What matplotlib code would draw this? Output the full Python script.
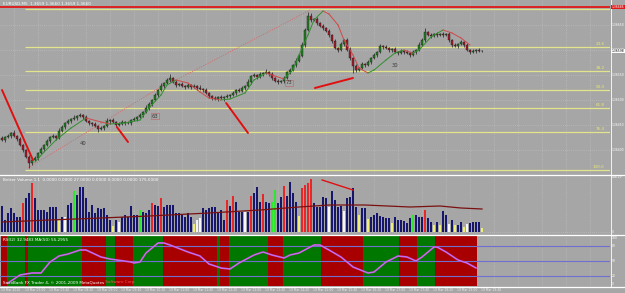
import matplotlib
matplotlib.use("Agg")
import matplotlib.pyplot as plt
from matplotlib.lines import Line2D
from matplotlib.transforms import blended_transform_factory

# ---------------- data ----------------
closes = [
    1.36420, 1.36426, 1.36428, 1.36434, 1.36428, 1.36422, 1.36410, 1.36400, 1.36386, 1.36374,
    1.36380, 1.36384, 1.36394, 1.36402, 1.36410, 1.36418, 1.36426, 1.36428, 1.36424, 1.36438,
    1.36446, 1.36454, 1.36458, 1.36462, 1.36464, 1.36468, 1.36470, 1.36466, 1.36458, 1.36454,
    1.36452, 1.36448, 1.36442, 1.36444, 1.36448, 1.36458, 1.36460, 1.36456, 1.36450, 1.36452,
    1.36456, 1.36454, 1.36454, 1.36460, 1.36462, 1.36466, 1.36470, 1.36476, 1.36484, 1.36492,
    1.36500, 1.36510, 1.36520, 1.36528, 1.36534, 1.36540, 1.36544, 1.36536, 1.36530, 1.36532,
    1.36528, 1.36526, 1.36530, 1.36526, 1.36528, 1.36524, 1.36522, 1.36520, 1.36514, 1.36508,
    1.36504, 1.36502, 1.36506, 1.36504, 1.36506, 1.36508, 1.36510, 1.36514, 1.36520, 1.36518,
    1.36524, 1.36528, 1.36536, 1.36548, 1.36550, 1.36546, 1.36552, 1.36554, 1.36556, 1.36552,
    1.36544, 1.36538, 1.36536, 1.36538, 1.36544, 1.36556, 1.36560, 1.36570, 1.36578, 1.36588,
    1.36610, 1.36640, 1.36668, 1.36660, 1.36662, 1.36654, 1.36648, 1.36644, 1.36638, 1.36630,
    1.36618, 1.36604, 1.36600, 1.36612, 1.36620, 1.36600, 1.36584, 1.36568, 1.36560, 1.36564,
    1.36572, 1.36570, 1.36576, 1.36584, 1.36590, 1.36596, 1.36608, 1.36606, 1.36604, 1.36600,
    1.36602, 1.36596, 1.36594, 1.36598, 1.36596, 1.36594, 1.36590, 1.36596, 1.36600, 1.36610,
    1.36620, 1.36636, 1.36630, 1.36628, 1.36632, 1.36630, 1.36632, 1.36630, 1.36632, 1.36620,
    1.36610, 1.36608, 1.36612, 1.36616, 1.36610, 1.36600, 1.36596, 1.36598, 1.36600, 1.36598,
    1.36598,
]
first_open = 1.36424
# wick lengths in units of 0.2 pip
wick_up = ("2121312112" "1212121213" "2121312121" "1212131212" "2121212132"
           "1213124121" "2121213121" "1212121212" "2131212131" "2121212132"
           "3243121212" "1212123121" "2121212121" "1212121213" "2412121212"
           "1212121212" "1")
wick_dn = ("1212121215" "2121212121" "1212121212" "2131213121" "1212121212"
           "2121212121" "1212121212" "2121312121" "1212121212" "2121212121"
           "1212121212" "2121212721" "1212121212" "2121212121" "1212121212"
           "2121212121" "1")
wick_unit = 0.00002

# moving average (bar index, price)
ma_bars = [11, 14, 18, 23, 28, 33, 36, 41, 46, 49, 53, 55, 58, 62, 66, 69, 73, 76, 81, 84,
           88, 91, 94, 97, 99, 102, 104, 107, 109, 112, 114, 117, 119, 122, 124, 128, 131,
           134, 137, 139, 143, 147, 150, 153, 156]
ma_vals = [1.36376, 1.36396, 1.36420, 1.36444, 1.36464, 1.36456, 1.36452, 1.36454, 1.36460,
           1.36484, 1.36510, 1.36530, 1.36540, 1.36534, 1.36516, 1.36504, 1.36500, 1.36502,
           1.36514, 1.36540, 1.36554, 1.36548, 1.36542, 1.36560, 1.36590, 1.36630, 1.36660,
           1.36678, 1.36672, 1.36650, 1.36620, 1.36590, 1.36564, 1.36554, 1.36560, 1.36580,
           1.36594, 1.36600, 1.36594, 1.36600, 1.36626, 1.36640, 1.36634, 1.36624, 1.36610]

red_level = 1.36686
fib_high = 1.36682
fib_low = 1.36360
fib_ratios = [0.0, 23.6, 38.2, 50.0, 61.8, 76.4, 100.0]
fib_start_bar = 7.5

price_ticks = [1.3665, 1.3660, 1.3655, 1.3650, 1.3645, 1.3640]

trend_solid = [((0, 1.36520), (10.3, 1.36380)),
               ((38.3, 1.36446), (42, 1.36416)),
               ((74.7, 1.36494), (82, 1.36434)),
               ((104.3, 1.36524), (117, 1.36544))]
trend_dotted = [((8.7, 1.36364), (56.7, 1.36540)),
                ((56.7, 1.36536), (102.7, 1.36680))]
wave_labels = [(27, 1.36414, "40", False), (51, 1.36468, "63", True),
               (95.7, 1.36534, "73", True), (131, 1.36570, "30", False)]

volumes = [
    208, 96, 152, 192, 152, 120, 120, 232, 272, 312,
    392, 272, 176, 176, 176, 160, 200, 200, 200, 96,
    120, 120, 216, 232, 328, 296, 360, 360, 272, 160,
    216, 152, 192, 184, 192, 136, 96, 48, 96, 80,
    120, 136, 120, 208, 136, 136, 176, 160, 152, 176,
    232, 216, 208, 272, 200, 216, 216, 216, 152, 152,
    136, 120, 152, 120, 64, 96,
    112, 192, 176, 192, 200, 200, 160, 176, 96, 256,
    208, 288, 240, 160, 160, 160, 160, 288, 312, 360,
    240, 304, 240, 232, 240, 336, 232, 280, 368, 288,
    400, 312, 240, 128, 352, 376, 392, 424, 232, 200,
    200, 280, 272, 200, 328, 256, 200, 208, 168, 272,
    280, 352, 200, 136, 192, 192, 104, 120, 136, 152,
    128, 120, 112, 112, 72, 120, 96, 96, 88, 72,
    112, 136, 136, 120, 120, 176, 112, 80, 56, 80,
    56, 168, 136, 64, 96, 56, 56, 80, 40, 64,
    72, 80, 80, 80, 32,
]
vol_colors = ("nnnnnnnrnn" "rnnnnnnnny" "nwnngnnnnn" "nnnnnnnynw" "nnnnnngnnn"
              "rnnrnnnnnn" "nnnnywwnnn" "nnnnnrnrnn" "nwnrnnnrnn" "ggnnrnnnny"
              "rrrrnnnnnw" "nnnnwnnnny" "nnynnnnnnn" "ynnnnnngnn" "nrnnynynnw"
              "nynnywnnnn" "y")
vol_ma_bars = [0, 16, 33, 49, 69, 86, 99, 109, 121, 136, 146, 153, 160]
vol_ma_vals = [80, 96, 112, 128, 152, 176, 200, 216, 216, 200, 208, 192, 184]
vol_trend = ((106.7, 416), (117, 336))

rsi_state = ("rr" "gggggg" "r" "gggggggggggggggggg" "rrrrrrrr" "ggg" "rrrrrr"
             "gggggggggg" "rrrrrrrrrrrrrrrrrr" "g" "rrr" "ggggggggggggg" "rrrrr"
             "ggggggggggggg" "rrrrrrrrrrrrrr" "gggggggggggg" "rrrrrr" "gggggg"
             "rrrrrrrrrrrrrr")
rsi_bars = [2, 6, 10, 13, 16, 19, 22, 26, 28, 33, 36, 43, 44, 46, 48, 52, 54, 56, 62, 66,
            69, 73, 76, 79, 84, 87, 90, 94, 96, 99, 104, 106, 109, 113, 117, 122, 124, 128,
            132, 135, 138, 140, 144, 145, 148, 152, 155, 158]
rsi_vals = [6, 22, 26, 26, 48, 60, 64, 72, 72, 58, 54, 48, 46, 48, 66, 86, 86, 82, 68, 60,
            44, 36, 34, 46, 62, 68, 62, 56, 62, 66, 82, 82, 72, 58, 38, 26, 28, 48, 60, 58,
            50, 58, 78, 78, 68, 52, 46, 36]
rsi_levels = [20, 50, 80]

time_labels = ["19 Mar 2010", "19 Mar 07:00", "19 Mar 07:40", "19 Mar 08:20", "19 Mar 09:00",
               "19 Mar 09:40", "19 Mar 10:20", "19 Mar 11:00", "19 Mar 11:40", "19 Mar 12:20",
               "19 Mar 13:00", "19 Mar 13:40", "19 Mar 14:20", "19 Mar 15:00", "19 Mar 15:40",
               "19 Mar 16:20", "19 Mar 17:00", "19 Mar 17:40", "19 Mar 18:20", "19 Mar 19:00",
               "19 Mar 19:40"]
label_step = 8

# ---------------- style ----------------
W, H = 625, 293
BG = "#a6a6a6"
GRID = "#c4c4c4"
FS = 3.0
FS_AX = 2.2
fig = plt.figure(figsize=(W / 100, H / 100), dpi=100, facecolor=BG)


def fr(x, y):
    return x / W, 1 - y / H


XMIN, XMAX = -0.67, 202.67
n = len(closes)
xs = list(range(n))

ax = fig.add_axes([0, 1 - 174 / H, 610 / W, 174 / H])
axv = fig.add_axes([0, 1 - 234 / H, 610 / W, 58 / H])
axr = fig.add_axes([0, 1 - 286 / H, 610 / W, 50 / H])
for a in (ax, axv, axr):
    a.set_facecolor(BG)
    a.set_xlim(XMIN, XMAX)
    a.set_xticks([])
    a.set_yticks([])
    for s in a.spines.values():
        s.set_visible(False)

ax.set_ylim(1.3670 - 174 * 0.00002, 1.3670)
axv.set_ylim(-16, 448)
axr.set_ylim(0, 100)

# grids
grid_x = [i + label_step / 2 for i in range(0, 200, label_step)]
for a in (ax, axv, axr):
    for gx in grid_x:
        a.axvline(gx, color=GRID, lw=0.5, ls=(0, (1, 2)), zorder=0.5)
for p in price_ticks:
    ax.axhline(p, color=GRID, lw=0.5, ls=(0, (1, 2)), zorder=0.5)
axv.axhline(0, color=GRID, lw=0.5, ls=(0, (1, 2)), zorder=0.5)

# fib levels
for r in fib_ratios:
    lvl = fib_high - r / 100 * (fib_high - fib_low)
    ax.hlines(lvl, fib_start_bar, XMAX, color="#e4e48c", lw=0.9, zorder=1)
    if r > 0:
        ax.text(200.8, lvl + 0.00002, f"{r:.1f}", color="#eaea70", fontsize=FS,
                ha="right", va="bottom", zorder=5)

ax.axhline(red_level, color="#e01818", lw=1.3, zorder=2)

# dotted trend lines
for (x0, y0), (x1, y1) in trend_dotted:
    ax.plot([x0, x1], [y0, y1], color="#d86a6a", lw=0.6, ls=(0, (1.5, 1.5)), zorder=2)

# candles
opens = [first_open] + closes[:-1]
for i in xs:
    o, c = opens[i], closes[i]
    hi = max(o, c) + int(wick_up[i]) * wick_unit
    lo = min(o, c) - int(wick_dn[i]) * wick_unit
    ax.vlines(i, lo, hi, color="#202020", lw=0.5, zorder=3)
    body = abs(c - o) if abs(c - o) > 1e-9 else 0.000006
    col = "#1f7f1f" if c >= o else "#a8182a"
    ax.bar(i, body, bottom=min(o, c), width=0.66, color=col, edgecolor="#202020",
           linewidth=0.3, zorder=4)

# MA coloured by slope
for k in range(len(ma_bars) - 1):
    up = ma_vals[k + 1] >= ma_vals[k]
    ax.plot(ma_bars[k:k + 2], ma_vals[k:k + 2], color="#2f8f2f" if up else "#d04848",
            lw=0.7, zorder=5)

for (x0, y0), (x1, y1) in trend_solid:
    ax.plot([x0, x1], [y0, y1], color="#e01010", lw=1.4, zorder=6, solid_capstyle="round")

for bx, by, t, boxed in wave_labels:
    kw = {}
    if boxed:
        kw["bbox"] = dict(boxstyle="square,pad=0.15", fc="none", ec="#c06060", lw=0.4)
    ax.text(bx, by, t, fontsize=FS + 0.8, color="#3a3a3a", ha="center", va="center",
            zorder=7, **kw)

ax.text(*fr(3, 4), "EURUSD,M5  1.3659 1.3660 1.3659 1.3660", transform=fig.transFigure,
        fontsize=FS, color="white", va="center", ha="left")

# right price axis
tr_main = blended_transform_factory(fig.transFigure, ax.transData)
for p in price_ticks:
    fig.text(611.5 / W, p, f"{p:.5f}", transform=tr_main, fontsize=FS_AX, color="white",
             va="center", ha="left")
fig.text(611.5 / W, red_level, f"{red_level:.5f}", transform=tr_main, fontsize=FS_AX,
         color="white", va="center", ha="left",
         bbox=dict(boxstyle="square,pad=0.15", fc="#e01818", ec="none"))
fig.text(611.5 / W, closes[-1], f"{closes[-1]:.5f}", transform=tr_main, fontsize=FS_AX,
         color="black", va="center", ha="left",
         bbox=dict(boxstyle="square,pad=0.15", fc="white", ec="none"))

# volume panel
cmap = {"n": "#16166a", "r": "#e82828", "g": "#2ee82e", "w": "#f6f6f6", "y": "#f0f070"}
axv.bar(xs, volumes, width=0.62, color=[cmap[c] for c in vol_colors], zorder=3)
axv.plot(vol_ma_bars, vol_ma_vals, color="#7a1010", lw=0.9, zorder=4)
axv.plot([vol_trend[0][0], vol_trend[1][0]], [vol_trend[0][1], vol_trend[1][1]],
         color="#e01010", lw=1.0, zorder=5)
axv.text(*fr(3, 180), "Better Volume 1.1  0.0000 0.0000 27.0000 0.0000 0.0000 0.0000 175.0000",
         transform=fig.transFigure, fontsize=FS, color="white", va="center")
tr_vol = blended_transform_factory(fig.transFigure, axv.transData)
fig.text(611.5 / W, 440, "448.29", transform=tr_vol, fontsize=FS_AX, color="white", va="center")
fig.text(611.5 / W, 0, "0", transform=tr_vol, fontsize=FS_AX, color="white", va="center")

# RSI panel
start = 0
for i in range(1, len(rsi_state) + 1):
    if i == len(rsi_state) or rsi_state[i] != rsi_state[start]:
        axr.axvspan(start - 0.5, i - 0.5, color="#a80000" if rsi_state[start] == "r" else "#007800",
                    lw=0, zorder=1)
        start = i
for lv in rsi_levels:
    axr.axhline(lv, color="#6f6fd0", lw=0.8, zorder=2)
axr.plot(rsi_bars, rsi_vals, color="#d040d0", lw=1.3, zorder=3)
axr.plot(rsi_bars, rsi_vals, color="#a6a0ff", lw=0.4, zorder=4)
axr.text(*fr(3, 240), "RSI(2) 32.9483 MA(50) 55.2955", transform=fig.transFigure,
         fontsize=FS, color="white", va="center")
t1 = axr.text(*fr(3, 282.5), "SaxoBank FX Trader 4, \u00a9 2001-2009 MetaQuotes",
              transform=fig.transFigure, fontsize=FS, color="white", va="center")
axr.annotate(" Software Corp.", xy=(1, 0.5), xycoords=t1, fontsize=FS, color="#ff5050",
             va="center", ha="left")
tr_rsi = blended_transform_factory(fig.transFigure, axr.transData)
for lv, t in [(96, "100"), (80, "80"), (50, "50"), (20, "20"), (4, "0")]:
    fig.text(611.5 / W, lv, t, transform=tr_rsi, fontsize=FS_AX, color="white", va="center")

# time axis labels
tr_time = blended_transform_factory(axr.transData, fig.transFigure)
for k, t in enumerate(time_labels):
    fig.text(k * label_step - 0.3, 1 - 289.8 / H, t, transform=tr_time, fontsize=FS_AX,
             color="#f0f0f0", va="center", ha="left")

# separators
for y in (175, 235, 286.5):
    fig.add_artist(Line2D([0, 1], [1 - y / H] * 2, transform=fig.transFigure, color="white", lw=0.9))
fig.add_artist(Line2D([610.5 / W] * 2, [1 - 286.5 / H, 1], transform=fig.transFigure,
                      color="white", lw=0.6))

fig.savefig("out.png", dpi=100, facecolor=BG)
